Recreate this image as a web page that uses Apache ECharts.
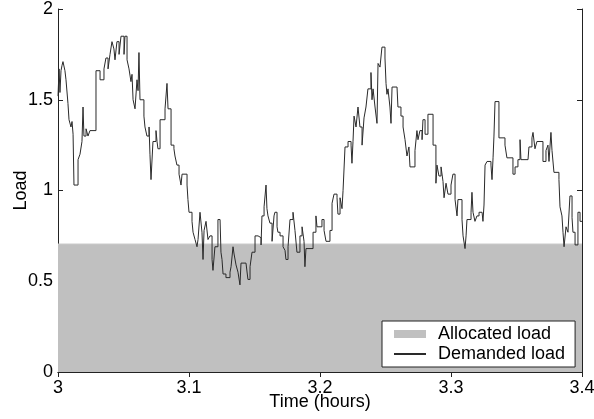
<!DOCTYPE html>
<html>
<head>
<meta charset="utf-8">
<script src="https://cdn.jsdelivr.net/npm/echarts@6/dist/echarts.min.js"></script>
<style>
  html, body { margin: 0; padding: 0; background: #fff; }
  #chart { width: 594px; height: 419px; }
</style>
</head>
<body>
<div id="chart"></div>
<script>
// demanded load: step starts (time in hours, load)
const demandTime = [
  3.0000, 3.0008, 3.0015, 3.0023, 3.0031, 3.0038, 3.0053, 3.0061, 3.0076, 3.0084,
  3.0099, 3.0107, 3.0115, 3.0122, 3.0153, 3.0168, 3.0183, 3.0191, 3.0198, 3.0214,
  3.0229, 3.0244, 3.0290, 3.0321, 3.0351, 3.0366, 3.0382, 3.0397, 3.0412, 3.0427,
  3.0435, 3.0450, 3.0466, 3.0481, 3.0504, 3.0511, 3.0527, 3.0542, 3.0557, 3.0565,
  3.0573, 3.0588, 3.0603, 3.0611, 3.0618, 3.0626, 3.0641, 3.0656, 3.0664, 3.0679,
  3.0695, 3.0702, 3.0710, 3.0725, 3.0748, 3.0756, 3.0763, 3.0779, 3.0817, 3.0832,
  3.0840, 3.0863, 3.0885, 3.0893, 3.0908, 3.0924, 3.0939, 3.0947, 3.0985, 3.0992,
  3.1000, 3.1023, 3.1031, 3.1046, 3.1061, 3.1069, 3.1084, 3.1099, 3.1107, 3.1115,
  3.1130, 3.1145, 3.1160, 3.1176, 3.1183, 3.1198, 3.1221, 3.1237, 3.1244, 3.1252,
  3.1260, 3.1282, 3.1313, 3.1321, 3.1336, 3.1344, 3.1359, 3.1374, 3.1389, 3.1397,
  3.1435, 3.1450, 3.1466, 3.1481, 3.1504, 3.1527, 3.1550, 3.1557, 3.1573, 3.1588,
  3.1595, 3.1603, 3.1618, 3.1634, 3.1649, 3.1656, 3.1672, 3.1679, 3.1695, 3.1718,
  3.1733, 3.1740, 3.1756, 3.1771, 3.1794, 3.1809, 3.1824, 3.1847, 3.1863, 3.1878,
  3.1885, 3.1893, 3.1947, 3.1969, 3.1977, 3.2015, 3.2031, 3.2046, 3.2076, 3.2092,
  3.2107, 3.2130, 3.2137, 3.2153, 3.2168, 3.2176, 3.2191, 3.2214, 3.2237, 3.2244,
  3.2252, 3.2260, 3.2275, 3.2290, 3.2305, 3.2321, 3.2336, 3.2351, 3.2366, 3.2389,
  3.2397, 3.2405, 3.2420, 3.2435, 3.2443, 3.2458, 3.2473, 3.2496, 3.2504, 3.2511,
  3.2519, 3.2534, 3.2542, 3.2550, 3.2588, 3.2595, 3.2618, 3.2634, 3.2649, 3.2664,
  3.2679, 3.2687, 3.2725, 3.2740, 3.2748, 3.2763, 3.2779, 3.2786, 3.2802, 3.2824,
  3.2863, 3.2885, 3.2893, 3.2908, 3.2924, 3.2939, 3.2947, 3.2962, 3.2977, 3.3000,
  3.3015, 3.3031, 3.3046, 3.3053, 3.3084, 3.3092, 3.3107, 3.3115, 3.3122, 3.3153,
  3.3160, 3.3168, 3.3183, 3.3198, 3.3214, 3.3237, 3.3244, 3.3252, 3.3260, 3.3275,
  3.3305, 3.3313, 3.3321, 3.3328, 3.3336, 3.3366, 3.3412, 3.3427, 3.3473, 3.3489,
  3.3511, 3.3527, 3.3534, 3.3588, 3.3595, 3.3618, 3.3626, 3.3641, 3.3656, 3.3702,
  3.3725, 3.3740, 3.3748, 3.3763, 3.3771, 3.3786, 3.3824, 3.3832, 3.3847, 3.3855,
  3.3863, 3.3878, 3.3893, 3.3908, 3.3924, 3.3931, 3.3947, 3.3969, 3.3985, 3.4000
];
const demandLoad = [
  1.52, 1.67, 1.54, 1.66, 1.69, 1.71, 1.66, 1.61, 1.48, 1.39,
  1.35, 1.38, 1.31, 1.03, 1.17, 1.20, 1.27, 1.46, 1.30, 1.34,
  1.30, 1.33, 1.66, 1.61, 1.67, 1.73, 1.67, 1.75, 1.82, 1.78,
  1.72, 1.82, 1.75, 1.85, 1.75, 1.85, 1.72, 1.67, 1.60, 1.64,
  1.50, 1.45, 1.61, 1.55, 1.76, 1.50, 1.50, 1.41, 1.35, 1.30,
  1.35, 1.20, 1.06, 1.27, 1.33, 1.27, 1.23, 1.39, 1.45, 1.59,
  1.45, 1.25, 1.23, 1.19, 1.14, 1.09, 1.03, 1.09, 1.03, 0.95,
  0.88, 0.83, 0.77, 0.73, 0.69, 0.73, 0.88, 0.77, 0.62, 0.78,
  0.83, 0.73, 0.75, 0.62, 0.56, 0.69, 0.84, 0.85, 0.66, 0.62,
  0.54, 0.52, 0.55, 0.58, 0.69, 0.65, 0.59, 0.55, 0.48, 0.60,
  0.59, 0.51, 0.58, 0.66, 0.75, 0.74, 0.70, 0.86, 0.91, 1.03,
  0.90, 0.86, 0.82, 0.72, 0.86, 0.88, 0.80, 0.77, 0.75, 0.69,
  0.67, 0.62, 0.69, 0.84, 0.88, 0.78, 0.66, 0.75, 0.80, 0.72,
  0.58, 0.68, 0.77, 0.86, 0.80, 0.84, 0.78, 0.72, 0.78, 0.93,
  0.98, 0.96, 0.87, 0.96, 0.90, 1.00, 1.24, 1.27, 1.25, 1.15,
  1.27, 1.41, 1.35, 1.46, 1.35, 1.25, 1.40, 1.46, 1.56, 1.65,
  1.50, 1.56, 1.46, 1.37, 1.70, 1.68, 1.79, 1.73, 1.59, 1.53,
  1.56, 1.46, 1.37, 1.57, 1.57, 1.46, 1.41, 1.35, 1.28, 1.19,
  1.24, 1.13, 1.22, 1.33, 1.28, 1.33, 1.28, 1.39, 1.31, 1.42,
  1.25, 1.04, 1.14, 1.08, 1.13, 1.05, 0.96, 1.04, 0.98, 1.03,
  1.09, 0.95, 0.86, 0.95, 0.84, 0.75, 0.68, 0.75, 0.84, 0.88,
  0.99, 0.88, 0.83, 0.86, 0.88, 0.88, 0.83, 0.92, 1.14, 1.16,
  1.14, 1.06, 1.18, 1.30, 1.49, 1.29, 1.25, 1.18, 1.09, 1.13,
  1.17, 1.28, 1.17, 1.16, 1.24, 1.29, 1.32, 1.23, 1.27, 1.16,
  1.22, 1.25, 1.16, 1.32, 1.22, 1.10, 1.06, 0.91, 0.86, 0.77,
  0.69, 0.80, 0.77, 0.97, 0.85, 0.77, 0.70, 0.88, 0.83, 0.83
];
// allocated load (flat)
const allocTime = [3.0, 3.4];
const allocLoad = [0.705, 0.705];

const xTicks = { min: 3, max: 3.4, interval: 0.1 };
const yTicks = { min: 0, max: 2, interval: 0.5 };

const font = 'Liberation Sans, Arial, sans-serif';
const axisColor = '#222';

const chart = echarts.init(document.getElementById('chart'));

const boxAxis = {
  axisLine: { show: true, lineStyle: { color: axisColor, width: 1 } },
  axisTick: { show: true, inside: true, length: 5, lineStyle: { color: axisColor } },
  axisLabel: { show: false },
  splitLine: { show: false }
};

chart.setOption({
  animation: false,
  backgroundColor: '#fff',
  grid: { left: 58, right: 12, top: 9, bottom: 47, containLabel: false, outerBoundsMode: 'none' },
  legend: {
    orient: 'vertical',
    left: 382,
    top: 321,
    width: 196,
    padding: [4, 10, 4, 11],
    itemWidth: 32,
    itemHeight: 8,
    itemGap: 2,
    backgroundColor: '#fff',
    borderColor: axisColor,
    borderWidth: 1,
    textStyle: { fontFamily: font, fontSize: 18, color: '#000', padding: [0, 0, 0, 7] },
    data: [
      { name: 'Allocated load', icon: 'rect' },
      { name: 'Demanded load', itemStyle: { opacity: 0 } }
    ]
  },
  xAxis: [
    {
      type: 'value',
      ...xTicks,
      name: 'Time (hours)',
      nameLocation: 'middle',
      nameMoveOverlap: false,
      nameGap: 21,
      nameTextStyle: { fontFamily: font, fontSize: 18, color: '#000' },
      axisLine: { show: true, onZero: false, lineStyle: { color: axisColor, width: 1 } },
      axisTick: { inside: true, length: 5, lineStyle: { color: axisColor } },
      axisLabel: { fontFamily: font, fontSize: 18, color: '#000', margin: 7 },
      splitLine: { show: false }
    },
    { type: 'value', position: 'top', ...xTicks, ...boxAxis }
  ],
  yAxis: [
    {
      type: 'value',
      ...yTicks,
      name: 'Load',
      nameLocation: 'middle',
      nameMoveOverlap: false,
      nameGap: 28,
      nameTextStyle: { fontFamily: font, fontSize: 18, color: '#000' },
      axisLine: { show: true, onZero: false, lineStyle: { color: axisColor, width: 1 } },
      axisTick: { inside: true, length: 5, lineStyle: { color: axisColor } },
      axisLabel: { fontFamily: font, fontSize: 18, color: '#000', margin: 5 },
      splitLine: { show: false }
    },
    { type: 'value', position: 'right', ...yTicks, ...boxAxis }
  ],
  series: [
    {
      name: 'Allocated load',
      type: 'line',
      data: allocTime.map((t, i) => [t, allocLoad[i]]),
      symbol: 'none',
      lineStyle: { color: '#c8c8c8', width: 1 },
      itemStyle: { color: '#c0c0c0' },
      areaStyle: { color: '#c0c0c0', opacity: 1 },
      z: 1
    },
    {
      name: 'Demanded load',
      type: 'line',
      step: 'end',
      data: demandTime.map((t, i) => [t, demandLoad[i]]),
      symbol: 'none',
      lineStyle: { color: '#2a2a2a', width: 1 },
      itemStyle: { color: '#2a2a2a' },
      z: 3
    }
  ]
});
</script>
</body>
</html>
